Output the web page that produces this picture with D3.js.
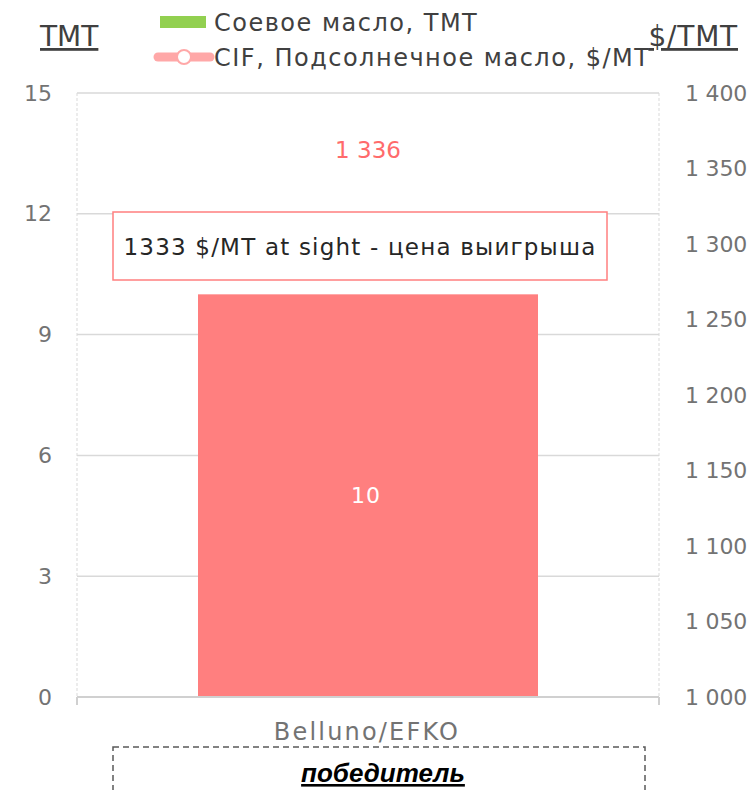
<!DOCTYPE html>
<html>
<head>
<meta charset="utf-8">
<script src="https://cdn.jsdelivr.net/npm/d3@7"></script>
<style>
  body { margin: 0; background: #fff; }
  svg text { font-family: "DejaVu Sans", sans-serif; }
</style>
</head>
<body>
<div id="chart"></div>
<script>
// data
var categories = ['Belluno/EFKO'];
var volumes = [10];            // Соевое масло, ТМТ (bars)
var prices = [1336];           // CIF, Подсолнечное масло, $/MT
var leftTicks = [0, 3, 6, 9, 12, 15];
var rightTicks = [1000, 1050, 1100, 1150, 1200, 1250, 1300, 1350, 1400];
var seriesNames = ['Соевое масло, ТМТ', 'CIF, Подсолнечное масло, $/MT'];
var noteText = '1333 $/MT at sight - цена выигрыша';
var winnerText = 'победитель';

var W = 755, H = 790;
var m = { top: 93, left: 77, right: 96, bottom: 93 };
var iw = W - m.left - m.right, ih = H - m.top - m.bottom;

var svg = d3.select('#chart').append('svg').attr('width', W).attr('height', H);
var g = svg.append('g').attr('transform', 'translate(' + m.left + ',' + m.top + ')');

var x = d3.scaleBand().domain(categories).range([0, iw]).paddingInner(0).paddingOuter(0);
var yL = d3.scaleLinear().domain([0, 15]).range([ih, 0]);
var yR = d3.scaleLinear().domain([1000, 1400]).range([ih, 0]);

// gridlines
g.selectAll('.grid').data(leftTicks.filter(function(d) { return d > 0; }))
  .enter().append('line')
  .attr('x1', 0).attr('x2', iw)
  .attr('y1', function(d) { return yL(d); }).attr('y2', function(d) { return yL(d); })
  .attr('stroke', '#d9d9d9').attr('stroke-width', 1.5);

// dashed side lines
[0, iw].forEach(function(px) {
  g.append('line').attr('x1', px).attr('x2', px).attr('y1', 0).attr('y2', ih)
    .attr('stroke', '#d9d9d9').attr('stroke-dasharray', '3,2');
});

// axes
var fmt = function(d) { return d3.format(',')(d).replace(',', ' '); };
var axL = g.append('g').call(d3.axisLeft(yL).tickValues(leftTicks).tickSize(0).tickPadding(25));
axL.select('.domain').remove();
axL.selectAll('text').attr('font-size', 22).attr('fill', '#737373');

var axR = g.append('g').attr('transform', 'translate(' + iw + ',0)')
  .call(d3.axisRight(yR).tickValues(rightTicks).tickSize(0).tickPadding(26).tickFormat(fmt));
axR.select('.domain').remove();
axR.selectAll('text').attr('font-size', 22).attr('fill', '#737373').attr('letter-spacing', -0.2);

// bars
var bw = 340;
g.selectAll('.bar').data(volumes).enter().append('rect')
  .attr('x', function(d, i) { return x(categories[i]) + x.bandwidth() / 2 - bw / 2; })
  .attr('y', function(d) { return yL(d); })
  .attr('width', bw)
  .attr('height', function(d) { return ih - yL(d); })
  .attr('fill', '#ff7f7f');

g.selectAll('.barlabel').data(volumes).enter().append('text')
  .attr('x', function(d, i) { return x(categories[i]) + x.bandwidth() / 2 - 2; })
  .attr('y', function(d) { return (yL(d) + ih) / 2; })
  .attr('dy', '0.35em').attr('text-anchor', 'middle')
  .attr('font-size', 22).attr('fill', '#fff').attr('letter-spacing', 1)
  .text(function(d) { return d; });

// bottom axis
g.append('line').attr('x1', 0).attr('x2', iw).attr('y1', ih).attr('y2', ih)
  .attr('stroke', '#d0d0d0').attr('stroke-width', 2);
[0, iw].forEach(function(px) {
  g.append('line').attr('x1', px).attr('x2', px).attr('y1', ih).attr('y2', ih + 8)
    .attr('stroke', '#d0d0d0').attr('stroke-width', 2);
});
g.selectAll('.cat').data(categories).enter().append('text')
  .attr('x', function(d) { return x(d) + x.bandwidth() / 2 - 1; })
  .attr('y', ih + 43)
  .attr('text-anchor', 'middle').attr('font-size', 24).attr('fill', '#737373').attr('letter-spacing', 2.2)
  .text(function(d) { return d; });

// price label (line series, single point)
g.selectAll('.price').data(prices).enter().append('text')
  .attr('x', function(d, i) { return x(categories[i]) + x.bandwidth() / 2; })
  .attr('y', function(d) { return yR(d) - 32; })
  .attr('text-anchor', 'middle').attr('font-size', 23).attr('fill', '#ff6b6b').attr('letter-spacing', 0)
  .text(function(d) { return fmt(d); });

// annotation box
svg.append('rect').attr('x', 113).attr('y', 212).attr('width', 494).attr('height', 68)
  .attr('fill', '#fff').attr('stroke', '#ff7f7f').attr('stroke-width', 1.5);
svg.append('text').attr('x', 360).attr('y', 247).attr('dy', '0.35em').attr('text-anchor', 'middle')
  .attr('font-size', 23).attr('fill', '#262626').attr('letter-spacing', 1.2).text(noteText);

// winner box
svg.append('rect').attr('x', 113).attr('y', 747).attr('width', 532).attr('height', 60)
  .attr('fill', 'none').attr('stroke', '#595959').attr('stroke-width', 1.5).attr('stroke-dasharray', '6,4');
svg.append('text').attr('x', 383).attr('y', 782).attr('text-anchor', 'middle')
  .style('font-family', '"Liberation Sans Narrow", "Liberation Sans", sans-serif')
  .attr('font-size', 26).attr('font-weight', 'bold').attr('font-style', 'italic')
  .attr('text-decoration', 'underline').attr('fill', '#000').text(winnerText);

// axis titles
svg.append('text').attr('x', 40).attr('y', 46).attr('font-size', 28).attr('fill', '#404040')
  .attr('text-decoration', 'underline').text('ТМТ');
svg.append('text').attr('x', 738).attr('y', 46).attr('text-anchor', 'end').attr('font-size', 28).attr('fill', '#404040')
  .attr('text-decoration', 'underline').attr('letter-spacing', 0.8).text('$/ТМТ');

// legend
var lg = svg.append('g');
lg.append('rect').attr('x', 160).attr('y', 16).attr('width', 46).attr('height', 12).attr('fill', '#92d050');
lg.append('line').attr('x1', 158).attr('x2', 210).attr('y1', 57).attr('y2', 57)
  .attr('stroke', '#ffa8a8').attr('stroke-width', 9).attr('stroke-linecap', 'round');
lg.append('circle').attr('cx', 184).attr('cy', 57).attr('r', 7).attr('fill', '#fff')
  .attr('stroke', '#ffa8a8').attr('stroke-width', 2);
lg.selectAll('.lt').data(seriesNames).enter().append('text')
  .attr('x', 214).attr('y', function(d, i) { return 31 + i * 35; })
  .attr('font-size', 24).attr('fill', '#404040').attr('letter-spacing', 1.5)
  .text(function(d) { return d; });
</script>
</body>
</html>
